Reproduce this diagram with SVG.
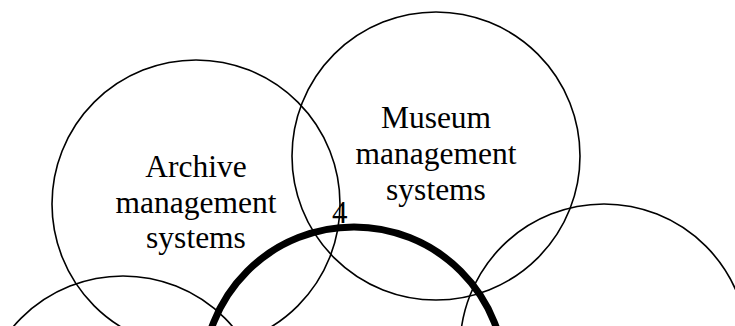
<svg xmlns="http://www.w3.org/2000/svg" width="735" height="326" viewBox="0 0 735 326">
  <style>
    .ring { fill: none; stroke: #000; stroke-width: 1.6; }
    .ring-bold { fill: none; stroke: #000; stroke-width: 7; }
    .label { font-family: "Liberation Serif", "Times New Roman", serif; font-size: 31.5px; fill: #000; text-anchor: middle; }
    .mark { font-family: "Liberation Serif", "Times New Roman", serif; font-size: 31px; fill: #000; }
  </style>
  <rect width="735" height="326" fill="#fff"/>

  <g id="archive">
    <circle class="ring" cx="196" cy="204" r="144"/>
    <text class="label" x="196" y="177">Archive</text>
    <text class="label" x="196" y="213">management</text>
    <text class="label" x="196" y="248">systems</text>
  </g>

  <g id="museum">
    <circle class="ring" cx="436" cy="156" r="144"/>
    <text class="label" x="436" y="128">Museum</text>
    <text class="label" x="436" y="164">management</text>
    <text class="label" x="436" y="200">systems</text>
  </g>

  <g id="lower-left">
    <circle class="ring" cx="123" cy="420" r="144"/>
  </g>

  <g id="lower-right">
    <circle class="ring" cx="604" cy="348" r="144"/>
  </g>

  <g id="centre">
    <circle class="ring-bold" cx="354" cy="378" r="151"/>
  </g>

  <g id="marker-4">
    <text class="mark" x="332" y="223">4</text>
  </g>
</svg>
